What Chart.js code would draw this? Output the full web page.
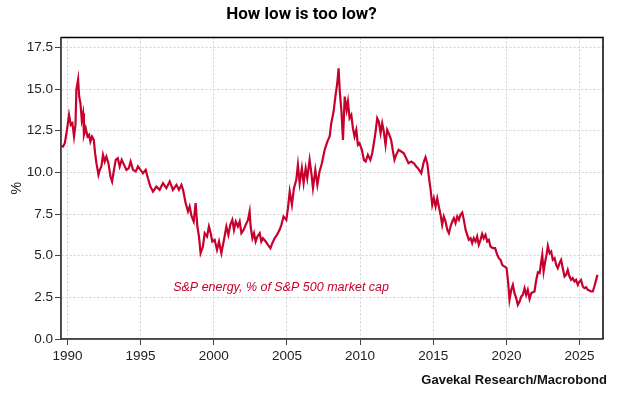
<!DOCTYPE html>
<html>
<head>
<meta charset="utf-8">
<script src="https://cdn.jsdelivr.net/npm/chart.js@4.4.1/dist/chart.umd.min.js"></script>
<style>
  html, body { margin: 0; padding: 0; background: #fff; }
  #wrap { width: 620px; height: 400px; }
</style>
</head>
<body>
<div id="wrap"><canvas id="graph-energia"></canvas></div>
<script>
// fechas (año decimal) y valores
const fechas = [
  1989.57, 1989.7, 1989.82, 1989.97, 1990.11, 1990.23, 1990.34, 1990.45, 1990.55, 1990.61,
  1990.73, 1990.8, 1990.89, 1990.98, 1991.07, 1991.13, 1991.25, 1991.37, 1991.48, 1991.57,
  1991.68, 1991.8, 1991.89, 1991.98, 1992.12, 1992.21, 1992.32, 1992.43, 1992.55, 1992.66,
  1992.8, 1992.94, 1993.05, 1993.18, 1993.3, 1993.44, 1993.57, 1993.71, 1993.87, 1994.03,
  1994.19, 1994.32, 1994.48, 1994.67, 1994.82, 1994.99, 1995.16, 1995.35, 1995.5, 1995.67,
  1995.85, 1996.08, 1996.3, 1996.53, 1996.76, 1996.99, 1997.21, 1997.45, 1997.62, 1997.79,
  1997.9, 1998.08, 1998.24, 1998.35, 1998.49, 1998.63, 1998.76, 1998.88, 1998.99, 1999.1,
  1999.26, 1999.38, 1999.54, 1999.67, 1999.79, 1999.9, 2000.06, 2000.22, 2000.36, 2000.52,
  2000.63, 2000.74, 2000.86, 2001.0, 2001.13, 2001.27, 2001.38, 2001.5, 2001.65, 2001.77,
  2001.89, 2002.04, 2002.18, 2002.34, 2002.45, 2002.52, 2002.64, 2002.75, 2002.86, 2002.98,
  2003.14, 2003.25, 2003.36, 2003.55, 2003.7, 2003.87, 2004.0, 2004.16, 2004.32, 2004.5,
  2004.62, 2004.77, 2004.96, 2005.07, 2005.19, 2005.34, 2005.48, 2005.64, 2005.75, 2005.87,
  2006.02, 2006.14, 2006.28, 2006.39, 2006.55, 2006.67, 2006.78, 2006.94, 2007.08, 2007.23,
  2007.39, 2007.58, 2007.76, 2007.92, 2008.03, 2008.19, 2008.31, 2008.44, 2008.53, 2008.62,
  2008.72, 2008.83, 2008.95, 2009.08, 2009.17, 2009.28, 2009.4, 2009.51, 2009.62, 2009.74,
  2009.85, 2009.96, 2010.12, 2010.26, 2010.38, 2010.53, 2010.7, 2010.83, 2010.94, 2011.06,
  2011.17, 2011.28, 2011.4, 2011.51, 2011.62, 2011.74, 2011.85, 2012.0, 2012.12, 2012.23,
  2012.35, 2012.47, 2012.63, 2012.81, 2012.99, 2013.15, 2013.31, 2013.5, 2013.68, 2013.84,
  2013.95, 2014.18, 2014.36, 2014.47, 2014.59, 2014.7, 2014.82, 2014.93, 2015.04, 2015.16,
  2015.27, 2015.38, 2015.5, 2015.61, 2015.72, 2015.84, 2015.96, 2016.07, 2016.18, 2016.3,
  2016.41, 2016.52, 2016.64, 2016.75, 2016.86, 2016.98, 2017.09, 2017.21, 2017.32, 2017.43,
  2017.55, 2017.66, 2017.77, 2017.89, 2018.0, 2018.11, 2018.23, 2018.34, 2018.45, 2018.57,
  2018.69, 2018.8, 2018.91, 2019.07, 2019.23, 2019.37, 2019.48, 2019.6, 2019.71, 2019.87,
  2020.01, 2020.1, 2020.16, 2020.21, 2020.33, 2020.44, 2020.55, 2020.67, 2020.78, 2020.9,
  2021.01, 2021.12, 2021.24, 2021.35, 2021.46, 2021.58, 2021.69, 2021.8, 2021.92, 2022.03,
  2022.15, 2022.27, 2022.38, 2022.45, 2022.54, 2022.65, 2022.76, 2022.83, 2022.95, 2023.06,
  2023.17, 2023.29, 2023.4, 2023.51, 2023.63, 2023.74, 2023.85, 2023.97, 2024.08, 2024.19,
  2024.31, 2024.42, 2024.53, 2024.65, 2024.76, 2024.88, 2024.99, 2025.1, 2025.22, 2025.33,
  2025.45, 2025.56, 2025.67, 2025.79, 2025.9, 2026.01, 2026.13, 2026.22
];

const pesoEnergia = [
  11.6, 11.55, 11.75, 12.55, 13.45, 12.85, 12.95, 12.15, 12.85, 14.95,
  15.58, 14.55, 14.15, 13.15, 13.55, 12.25, 12.65, 12.15, 12.25, 11.85,
  12.15, 11.95, 11.15, 10.55, 9.85, 10.15, 10.35, 11.05, 10.65, 10.95,
  10.55, 9.75, 9.45, 10.15, 10.75, 10.85, 10.35, 10.75, 10.45, 10.15,
  10.25, 10.65, 10.15, 10.05, 10.35, 10.15, 9.95, 10.15, 9.65, 9.15,
  8.85, 9.15, 8.95, 9.35, 9.05, 9.45, 8.95, 9.25, 8.95, 9.25,
  8.95, 8.15, 7.65, 7.95, 7.35, 7.05, 8.15, 6.75, 6.15, 5.15,
  5.55, 6.35, 6.15, 6.75, 6.35, 5.85, 5.95, 5.35, 5.85, 5.15,
  5.65, 6.15, 6.75, 6.25, 6.85, 7.15, 6.55, 7.05, 6.75, 7.05,
  6.35, 6.55, 6.85, 7.15, 7.65, 6.75, 6.05, 6.35, 5.85, 6.15,
  6.35, 5.85, 6.05, 5.85, 5.65, 5.45, 5.75, 6.05, 6.25, 6.55,
  6.85, 7.35, 7.15, 7.85, 8.85, 8.05, 9.05, 9.55, 10.45, 9.35,
  10.25, 9.35, 10.25, 9.65, 10.75, 9.95, 9.05, 10.15, 9.25, 10.05,
  10.55, 11.35, 11.85, 12.15, 12.95, 13.65, 14.55, 15.35, 16.25, 14.75,
  13.75, 11.95, 14.55, 13.75, 14.25, 13.25, 13.45, 12.65, 12.15, 12.55,
  11.65, 11.75, 11.35, 10.75, 10.65, 11.05, 10.75, 11.15, 11.75, 12.45,
  13.25, 13.05, 12.35, 12.95, 12.45, 11.65, 12.55, 12.25, 11.95, 11.35,
  10.75, 11.05, 11.35, 11.25, 11.15, 10.85, 10.55, 10.65, 10.55, 10.35,
  10.25, 9.95, 10.65, 10.91, 10.55, 9.75, 8.95, 8.05, 8.45, 7.95,
  8.45, 7.95, 7.45, 6.85, 7.35, 7.05, 6.55, 6.35, 6.75, 7.05,
  7.25, 6.95, 7.35, 7.15, 7.45, 7.59, 7.15, 6.55, 6.25, 5.95,
  6.05, 5.75, 6.05, 5.85, 6.15, 5.65, 5.95, 6.31, 6.05, 6.25,
  5.85, 5.95, 5.55, 5.45, 5.45, 5.05, 4.85, 4.75, 4.45, 4.35,
  4.25, 3.55, 2.95, 2.35, 2.95, 3.25, 2.75, 2.45, 2.05, 2.25,
  2.55, 2.65, 3.05, 2.65, 2.95, 2.4, 2.75, 2.8, 2.85, 3.5,
  4.0, 3.95, 4.65, 5.05, 4.05, 4.65, 5.15, 5.59, 5.15, 5.25,
  4.75, 4.85, 4.45, 4.25, 4.55, 4.75, 4.25, 3.75, 3.85, 4.15,
  3.75, 3.55, 3.65, 3.45, 3.55, 3.25, 3.45, 3.55, 3.15, 3.05,
  3.11, 2.95, 2.91, 2.85, 2.85, 3.15, 3.55, 3.85
];

const anosEje = [1990, 1995, 2000, 2005, 2010, 2015, 2020, 2025];
const ticksY = [0, 2.5, 5, 7.5, 10, 12.5, 15, 17.5];

const rojo = '#c8002d';
const fuente = "'Liberation Sans', Arial, sans-serif";

// marco: ejes solidos a la izquierda/abajo, negro arriba/derecha, y textos extra
const extras = {
  id: 'extras',
  afterDraw(chart) {
    const ctx = chart.ctx;
    const a = chart.chartArea;
    ctx.save();
    ctx.setLineDash([]);
    ctx.lineWidth = 1.5;
    ctx.strokeStyle = '#000';
    ctx.beginPath();
    ctx.moveTo(a.left, a.top);
    ctx.lineTo(a.right, a.top);
    ctx.lineTo(a.right, a.bottom);
    ctx.stroke();
    ctx.strokeStyle = '#444';
    ctx.beginPath();
    ctx.moveTo(a.left, a.top);
    ctx.lineTo(a.left, a.bottom);
    ctx.lineTo(a.right, a.bottom);
    ctx.stroke();

    const x = chart.scales.x.getPixelForValue(2004.6);
    const y = chart.scales.y.getPixelForValue(3.1);
    ctx.fillStyle = rojo;
    ctx.font = "italic 12.5px " + fuente;
    ctx.textAlign = 'center';
    ctx.textBaseline = 'middle';
    ctx.fillText('S&P energy, % of S&P 500 market cap', x, y);

    ctx.fillStyle = '#111';
    ctx.font = "bold 13px " + fuente;
    ctx.textAlign = 'right';
    ctx.fillText('Gavekal Research/Macrobond', 607, 380);
    ctx.restore();
  }
};

const dataEnergia = {
  datasets: [
    {
      label: 'S&P energy, % of S&P 500 market cap',
      data: fechas.map((f, i) => ({ x: f, y: pesoEnergia[i] })),
      borderColor: rojo,
      borderWidth: 2.2,
      pointRadius: 0,
      tension: 0,
      fill: false
    }
  ]
};

const rejilla = {
  color: '#d2d2d2',
  tickBorderDash: [],
  tickColor: '#444',
  tickLength: 6,
  lineWidth: 1
};

const configEnergia = {
  type: 'line',
  data: dataEnergia,
  options: {
    responsive: true,
    maintainAspectRatio: false,
    animation: false,
    layout: { padding: { left: 0, right: 17, top: 0, bottom: 0 } },
    plugins: {
      legend: { display: false },
      tooltip: { enabled: false },
      title: {
        display: true,
        text: 'How low is too low?',
        color: '#000',
        font: { family: "Roboto, 'Liberation Sans', sans-serif", size: 17, weight: 'bold' },
        padding: { top: 5, bottom: 12 }
      }
    },
    scales: {
      x: {
        type: 'linear',
        min: 1989.56,
        max: 2026.6,
        afterBuildTicks: scale => { scale.ticks = anosEje.map(v => ({ value: v })); },
        afterFit: scale => { scale.height = 61; },
        ticks: {
          color: '#222',
          font: { family: fuente, size: 13.5 },
          padding: 3,
          maxRotation: 0,
          callback: v => String(v)
        },
        grid: rejilla,
        border: { color: '#444', width: 1.5, dash: [2, 2] }
      },
      y: {
        min: 0,
        max: 18.1,
        afterBuildTicks: scale => { scale.ticks = ticksY.map(v => ({ value: v })); },
        afterFit: scale => { scale.width = 61; },
        ticks: {
          color: '#222',
          font: { family: fuente, size: 13.5 },
          padding: 2,
          callback: v => v.toFixed(1)
        },
        grid: rejilla,
        border: { color: '#444', width: 1.5, dash: [2, 2] },
        title: {
          display: true,
          text: '%',
          color: '#222',
          font: { family: fuente, size: 14 },
          padding: { top: 9, bottom: 0 }
        }
      }
    }
  },
  plugins: [extras]
};

const chartEnergia = new Chart(document.querySelector('#graph-energia'), configEnergia);
</script>
</body>
</html>
